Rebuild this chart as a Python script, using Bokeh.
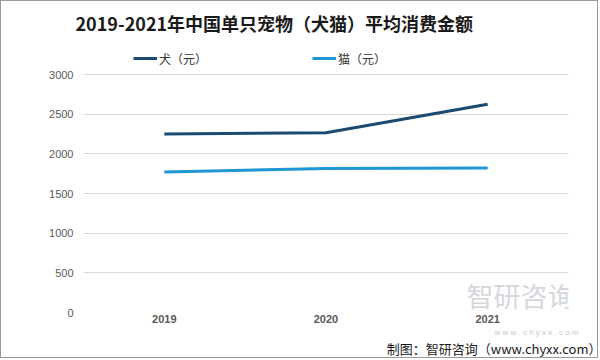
from bokeh.plotting import figure
from bokeh.models import Label, Legend, LegendItem, FixedTicker, Range1d, FactorRange, Title
from bokeh.embed import file_html
from bokeh.resources import INLINE

years = ["2019", "2020", "2021"]
dog = [2250, 2265, 2625]
cat = [1770, 1815, 1822]
y_ticks = [0, 500, 1000, 1500, 2000, 2500, 3000]
title_text = "2019-2021年中国单只宠物（犬猫）平均消费金额"
dog_name = "犬（元）"
cat_name = "猫（元）"
source_text = "制图：智研咨询（www.chyxx.com）"

W, H = 598, 358               # plus 1px border on each side -> 600x360
TOP, BOTTOM = 36, 311          # frame top / bottom in canvas px
Y3000 = 73                     # canvas px of the 3000 gridline
Y_END = 3000 * (BOTTOM - TOP) / (BOTTOM - Y3000)
FRAME_H = BOTTOM - TOP

p = figure(width=W, height=H, x_range=FactorRange(*years), y_range=Range1d(0, Y_END),
           output_backend="svg", toolbar_location=None,
           min_border_left=82, min_border_right=31, min_border_top=TOP,
           min_border_bottom=H - BOTTOM)
p.outline_line_color = None
p.background_fill_color = "white"
p.border_fill_color = "white"
p.styles = {"border": "1px solid #9a9a9a"}

FONT = "Noto Sans CJK SC"

r_dog = p.line(years, dog, line_color="#1a4a70", line_width=3)
r_cat = p.line(years, cat, line_color="#1f97d4", line_width=3)

p.yaxis.ticker = FixedTicker(ticks=y_ticks)
p.ygrid.grid_line_color = "#d9d9d9"
p.xgrid.grid_line_color = None
for ax in (p.xaxis[0], p.yaxis[0]):
    ax.axis_line_color = None
    ax.major_tick_line_color = None
    ax.minor_tick_line_color = None
    ax.major_tick_out = 0
    ax.major_tick_in = 0
    ax.major_label_text_color = "#595959"
    ax.major_label_text_font = "Liberation Sans"
    ax.major_label_text_font_size = "11px"
p.yaxis.major_label_standoff = 10
p.xaxis.major_label_standoff = 2
p.xaxis.major_label_text_font_style = "bold"

legend = Legend(items=[LegendItem(label=dog_name, renderers=[r_dog]),
                       LegendItem(label=cat_name, renderers=[r_cat])],
                orientation="horizontal", location=(50, FRAME_H - 31),
                glyph_width=24, glyph_height=20, label_height=20,
                label_standoff=2, spacing=105,
                label_text_font=FONT, label_text_font_size="12px", label_text_color="#333333",
                background_fill_alpha=0, border_line_color=None, padding=0, margin=0)
p.add_layout(legend, "center")

p.add_layout(Title(text=title_text, text_font=FONT, text_font_style="bold",
                   text_font_size="18px", text_color="#1a1a1a", align="left", offset=-8,
                   standoff=4), "above")

# watermark inside frame
p.add_layout(Label(x=437, y=-2, x_units="screen", y_units="screen", text="智研咨询",
                   text_font=FONT, text_font_size="27px", text_color="#c9ced3",
                   text_align="center", text_baseline="bottom", text_alpha=0.8))

p.add_layout(Title(text="w w w . c h y x x . c o m", text_font="Liberation Sans",
                   text_font_size="8px", text_font_style="normal", text_color="#c5cad0",
                   align="right", offset=-10, standoff=0), "below")
p.add_layout(Title(text=source_text, text_font=FONT, text_font_size="13px",
                   text_font_style="normal", text_color="#1a1a1a",
                   align="right", offset=-33, standoff=0), "below")

open("out.html", "w").write(file_html(p, INLINE))
